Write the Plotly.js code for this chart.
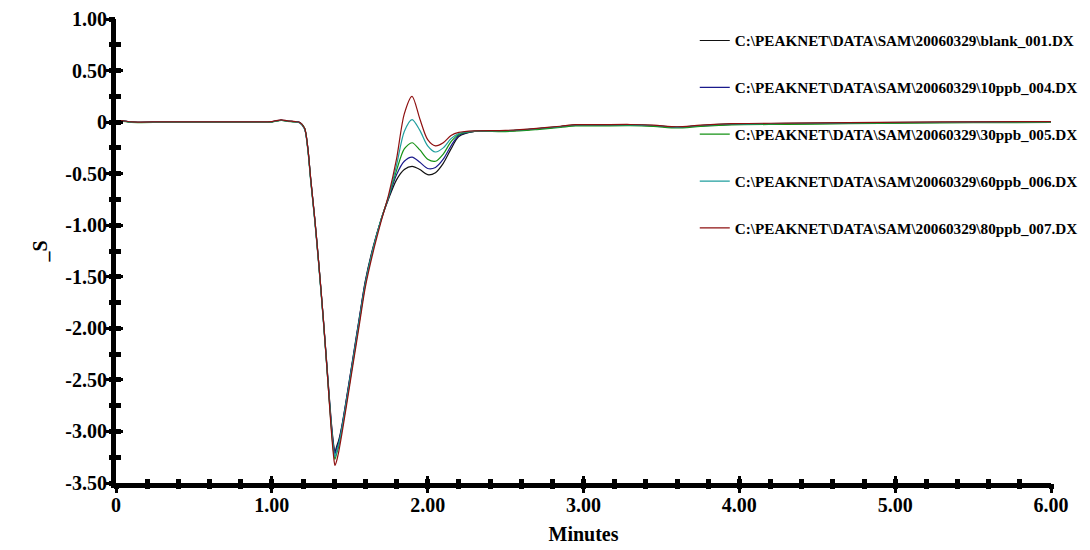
<!DOCTYPE html>
<html>
<head>
<meta charset="utf-8">
<script src="https://cdn.plot.ly/plotly-3.0.1.min.js"></script>
<style>html,body{margin:0;padding:0;background:#fff;}#chart{width:1090px;height:550px;}</style>
</head>
<body>
<div id="chart"></div>
<script>
// Time axis (minutes)
const time = [0, 0.03, 0.1, 0.3, 0.5, 0.7, 0.9, 1.0, 1.06, 1.1, 1.15, 1.18,
  1.21, 1.23, 1.25, 1.275, 1.3, 1.33, 1.36, 1.38, 1.395, 1.405, 1.415, 1.43, 1.45, 1.48, 1.52, 1.56, 1.6, 1.65, 1.7, 1.75,
  1.8, 1.85, 1.9, 1.95, 2.0, 2.05, 2.1, 2.15, 2.2, 2.3,
  2.5, 2.7, 2.85, 2.95, 3.1, 3.3, 3.45, 3.6, 3.75, 3.95, 4.3, 4.7, 5.1, 5.5, 6.0];

const blank001 = [0, 0.012, 0.0, 0.0, 0.0, 0.0, 0.0, 0.003, 0.018, 0.01, 0.004, -0.005,
  -0.06, -0.24, -0.56, -0.93, -1.35, -1.9, -2.49, -2.88, -3.11, -3.20, -3.15, -3.08, -2.94, -2.67, -2.29, -1.91, -1.54, -1.21, -0.95, -0.74,
  -0.56, -0.46, -0.43, -0.46, -0.51, -0.49, -0.40, -0.26, -0.14, -0.09,
  -0.085, -0.065, -0.044, -0.028, -0.029, -0.027, -0.034, -0.049, -0.034, -0.019, -0.014, -0.009, -0.004, 0.0, 0.002];

const ppb10_004 = [0, 0.014, 0.0, 0.0, 0.0, 0.0, 0.0, 0.003, 0.02, 0.01, 0.004, -0.005,
  -0.06, -0.24, -0.56, -0.93, -1.35, -1.9, -2.5, -2.9, -3.13, -3.22, -3.17, -3.10, -2.95, -2.68, -2.3, -1.92, -1.55, -1.22, -0.95, -0.73,
  -0.51, -0.38, -0.34, -0.39, -0.45, -0.44, -0.36, -0.23, -0.13, -0.09,
  -0.086, -0.066, -0.046, -0.031, -0.031, -0.029, -0.036, -0.051, -0.036, -0.021, -0.016, -0.011, -0.006, -0.002, 0.0];

const ppb30_005 = [0, 0.01, -0.003, -0.003, -0.003, -0.003, -0.003, 0.0, 0.016, 0.008, 0.002, -0.007,
  -0.06, -0.25, -0.57, -0.94, -1.36, -1.91, -2.52, -2.93, -3.18, -3.27, -3.22, -3.14, -2.98, -2.71, -2.33, -1.95, -1.57, -1.23, -0.95, -0.72,
  -0.47, -0.26, -0.20, -0.27, -0.36, -0.38, -0.31, -0.19, -0.12, -0.09,
  -0.092, -0.072, -0.052, -0.037, -0.037, -0.035, -0.042, -0.057, -0.042, -0.027, -0.022, -0.016, -0.01, -0.006, -0.004];

const ppb60_006 = [0, 0.012, 0.0, 0.0, 0.0, 0.0, 0.0, 0.003, 0.018, 0.01, 0.004, -0.008,
  -0.07, -0.26, -0.58, -0.95, -1.37, -1.92, -2.52, -2.92, -3.16, -3.25, -3.20, -3.12, -2.97, -2.70, -2.32, -1.94, -1.57, -1.23, -0.95, -0.72,
  -0.42, -0.09, 0.025, -0.08, -0.23, -0.29, -0.25, -0.16, -0.11, -0.088,
  -0.083, -0.063, -0.043, -0.028, -0.028, -0.026, -0.033, -0.048, -0.033, -0.018, -0.013, -0.008, -0.003, 0.0, 0.002];

const ppb80_007 = [0, 0.014, 0.002, 0.002, 0.002, 0.002, 0.002, 0.005, 0.022, 0.012, 0.005, -0.004,
  -0.06, -0.24, -0.56, -0.93, -1.35, -1.9, -2.52, -2.96, -3.22, -3.33, -3.29, -3.19, -3.02, -2.74, -2.36, -1.98, -1.60, -1.26, -0.97, -0.70,
  -0.36, 0.08, 0.25, 0.03, -0.17, -0.23, -0.20, -0.13, -0.10, -0.085,
  -0.08, -0.06, -0.04, -0.025, -0.025, -0.023, -0.03, -0.045, -0.03, -0.015, -0.01, -0.005, 0.0, 0.003, 0.005];

const seriesNames = [
  'C:\\PEAKNET\\DATA\\SAM\\20060329\\blank_001.DX',
  'C:\\PEAKNET\\DATA\\SAM\\20060329\\10ppb_004.DX',
  'C:\\PEAKNET\\DATA\\SAM\\20060329\\30ppb_005.DX',
  'C:\\PEAKNET\\DATA\\SAM\\20060329\\60ppb_006.DX',
  'C:\\PEAKNET\\DATA\\SAM\\20060329\\80ppb_007.DX'
];
const seriesValues = [blank001, ppb10_004, ppb30_005, ppb60_006, ppb80_007];
const seriesColors = ['#111111', '#1a1a8c', '#159215', '#1f9e9e', '#8e1010'];

const xTickVals = [0, 1, 2, 3, 4, 5, 6];
const xTickText = ['0', '1.00', '2.00', '3.00', '4.00', '5.00', '6.00'];
const yTickVals = [1, 0.5, 0, -0.5, -1, -1.5, -2, -2.5, -3, -3.5];
const yTickText = ['1.00', '0.50', '0', '-0.50', '-1.00', '-1.50', '-2.00', '-2.50', '-3.00', '-3.50'];

const FONT = 'Liberation Serif, Times New Roman, serif';

const traces = seriesValues.map((v, i) => ({
  x: time, y: v, type: 'scatter', mode: 'lines', name: seriesNames[i],
  legendgroup: 'g' + i,
  line: {color: seriesColors[i], width: 1.2, shape: 'spline', smoothing: 0.8}
}));
// empty helper trace so the overlay axes (outer half of the crossing ticks) are drawn
traces.push({x: [], y: [], xaxis: 'x2', yaxis: 'y2', type: 'scatter', mode: 'lines', showlegend: false, hoverinfo: 'skip'});

const layout = {
  width: 1090, height: 550,
  margin: {l: 116, r: 39, t: 19, b: 67, autoexpand: false},
  paper_bgcolor: '#fff', plot_bgcolor: '#fff',
  font: {family: FONT, color: '#000', size: 20, weight: 'bold'},
  showlegend: true,
  legend: {
    x: 0.619, xanchor: 'left', y: 0.989, yanchor: 'top',
    font: {family: FONT, size: 15.2, weight: 'bold', color: '#000'},
    tracegroupgap: 24.1, bgcolor: 'rgba(0,0,0,0)', itemwidth: 30
  },
  xaxis: {
    range: [0, 6], showgrid: false, zeroline: false,
    showline: true, linecolor: '#000', linewidth: 5,
    tickmode: 'array', tickvals: xTickVals, ticktext: xTickText,
    ticks: 'inside', ticklen: 7, tickwidth: 3, tickcolor: '#000',
    tickfont: {family: FONT, size: 20, weight: 'bold'},
    minor: {tickmode: 'linear', tick0: 0, dtick: 0.2, ticks: 'inside', ticklen: 4, tickwidth: 5, tickcolor: '#000', showgrid: false},
    title: {text: 'Minutes', font: {family: FONT, size: 20, weight: 'bold'}, standoff: 13}
  },
  yaxis: {
    range: [-3.5, 1.0], showgrid: false, zeroline: false,
    showline: true, linecolor: '#000', linewidth: 5,
    tickmode: 'array', tickvals: yTickVals, ticktext: yTickText,
    ticks: 'inside', ticklen: 7, tickwidth: 3, tickcolor: '#000',
    tickfont: {family: FONT, size: 20, weight: 'bold'},
    minor: {tickmode: 'linear', tick0: 0, dtick: 0.25, ticks: 'inside', ticklen: 5, tickwidth: 5, tickcolor: '#000', showgrid: false},
    title: {text: '_S', font: {family: FONT, size: 20, weight: 'bold'}, standoff: 14}
  },
  xaxis2: {
    overlaying: 'x', anchor: 'y', side: 'bottom', range: [0, 6],
    showgrid: false, zeroline: false, showline: false, showticklabels: false,
    tickmode: 'array', tickvals: xTickVals,
    ticks: 'outside', ticklen: 9, tickwidth: 3, tickcolor: '#000',
    minor: {tickmode: 'linear', tick0: 0, dtick: 0.2, ticks: 'outside', ticklen: 5, tickwidth: 5, tickcolor: '#000', showgrid: false}
  },
  yaxis2: {
    overlaying: 'y', anchor: 'x', side: 'left', range: [-3.5, 1.0],
    showgrid: false, zeroline: false, showline: false, showticklabels: false,
    tickmode: 'array', tickvals: yTickVals,
    ticks: 'outside', ticklen: 9, tickwidth: 3, tickcolor: '#000',
    minor: {tickmode: 'linear', tick0: 0, dtick: 0.25, ticks: 'outside', ticklen: 6, tickwidth: 5, tickcolor: '#000', showgrid: false}
  }
};

Plotly.newPlot('chart', traces, layout, {staticPlot: true, displayModeBar: false});
</script>
</body>
</html>
